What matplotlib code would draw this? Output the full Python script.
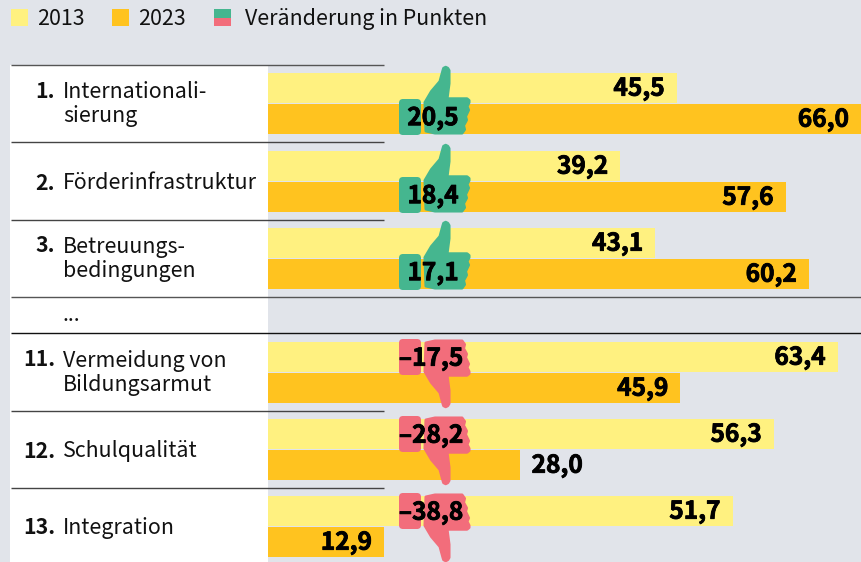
import matplotlib
matplotlib.use('Agg')
import matplotlib.pyplot as plt
import matplotlib.patheffects as pe
from matplotlib.patches import Polygon, FancyBboxPatch, Rectangle

plt.rcParams['font.family'] = ['Noto Sans CJK SC', 'DejaVu Sans']

ranks = ['1.', '2.', '3.', '11.', '12.', '13.']
labels = ['Internationali-\nsierung', 'Förderinfrastruktur', 'Betreuungs-\nbedingungen',
          'Vermeidung von\nBildungsarmut', 'Schulqualität', 'Integration']
v2013 = [45.5, 39.2, 43.1, 63.4, 56.3, 51.7]
v2023 = [66.0, 57.6, 60.2, 45.9, 28.0, 12.9]
delta = ['20,5', '18,4', '17,1', '\u201317,5', '\u201328,2', '\u201338,8']
rows = [103.5, 181.5, 258.5, 372.5, 449.5, 526.5]

BG = '#e1e4ea'
YEL = '#fff180'
ORA = '#ffc31f'
GRN = '#45b68f'
RED = '#f26d7b'
FS = 15.4
FS_BOLD = 17.6
px_per_unit = 8.985
# the numbers are a heavier cut than the bold that is installed
heavy = [pe.withStroke(linewidth=0.6, foreground='black')]

fig = plt.figure(figsize=(8.62, 5.62), dpi=100, facecolor=BG)
bg = fig.add_axes([0, 0, 1, 1], zorder=0)
bg.set_xlim(0, 862)
bg.set_ylim(562, 0)
bg.axis('off')

ax = fig.add_axes([268 / 862, 0, 594 / 862, 1], zorder=1)
ax.set_xlim(0, 594 / px_per_unit)
ax.set_ylim(562, 0)
ax.axis('off')

# white label panel and rules
bg.add_patch(Rectangle((10, 65), 258, 497, fc='white', ec='none'))
for y, x1, c in [(65, 384, '#555555'), (142, 384, '#444444'), (219.5, 384, '#444444'),
                 (297, 861, '#555555'), (333, 861, '#111111'), (410.5, 384, '#444444'),
                 (488, 384, '#444444')]:
    bg.plot([11, x1], [y, y], color=c, lw=1, solid_capstyle='butt')

# legend
bg.add_patch(Rectangle((11, 9), 17, 17, fc=YEL, ec='none'))
bg.add_patch(Rectangle((112, 9), 17, 17, fc=ORA, ec='none'))
bg.add_patch(Rectangle((214, 9), 17, 8.5, fc=GRN, ec='none'))
bg.add_patch(Rectangle((214, 17.5), 17, 8.5, fc=RED, ec='none'))
bg.text(37, 19, '2013', fontsize=FS, va='center', color='#111111')
bg.text(138, 19, '2023', fontsize=FS, va='center', color='#111111')
bg.text(245, 19, 'Veränderung in Punkten', fontsize=FS, va='center', color='#111111')

bg.text(63, 315, '...', fontsize=FS, va='center', color='#111111')

# thumb outline, y relative to the row centre
hand = [(425, -1), (431.5, -12), (440, -22), (443, -33), (443.7, -35.2), (445.7, -36.2),
        (447.7, -35.2), (449, -33), (449, -20), (447, -4.7), (467, -4.7), (469, -3), (469, -1),
        (467, 3), (468.5, 6.5), (465.5, 13), (466.5, 16.5), (463.5, 22), (464.5, 26),
        (462, 29.5), (435, 29.5), (426, 27.5)]


def thumb(y0, up, color):
    sign = 1 if up else -1
    off = 0 if up else -2
    pts = [(x, y0 + off + sign * y) for x, y in hand]
    ax.add_patch(Polygon(pts, closed=True, fc=color, ec=color, lw=2.2, joinstyle='round',
                         transform=bg.transData, clip_on=False, zorder=3))
    top = y0 + off + (-4.5 if up else -31.5)
    ax.add_patch(FancyBboxPatch((403, top + 4), 14, 28, boxstyle='round,pad=4,rounding_size=4',
                                fc=color, ec='none', transform=bg.transData, clip_on=False,
                                zorder=3))


for i, y0 in enumerate(rows):
    ax.barh(y0 - 15.5, v2013[i], height=30, color=YEL, zorder=1)
    ax.barh(y0 + 15.5, v2023[i], height=30, color=ORA, zorder=1)
    ax.text(v2013[i] - 12 / px_per_unit, y0 - 14.5, f'{v2013[i]:.1f}'.replace('.', ','),
            ha='right', va='center', fontsize=FS_BOLD, fontweight='bold', color='black', zorder=5,
            path_effects=heavy)
    if v2023[i] == 28.0:
        ax.text(v2023[i] + 12 / px_per_unit, y0 + 16.5, f'{v2023[i]:.1f}'.replace('.', ','),
                ha='left', va='center', fontsize=FS_BOLD, fontweight='bold', color='black', zorder=5,
                path_effects=heavy)
    else:
        ax.text(v2023[i] - 12 / px_per_unit, y0 + 16.5, f'{v2023[i]:.1f}'.replace('.', ','),
                ha='right', va='center', fontsize=FS_BOLD, fontweight='bold', color='black', zorder=5,
                path_effects=heavy)

    up = not delta[i].startswith('\u2013')
    thumb(y0, up, GRN if up else RED)
    ax.text(433 if up else 431, y0 + (15 if up else -13.5), delta[i], transform=bg.transData,
            ha='center', va='center', fontsize=FS_BOLD, fontweight='bold', color='black', zorder=5,
            path_effects=heavy)

    two_lines = '\n' in labels[i]
    bg.text(55, y0 - 12.5 if two_lines else y0 + 1.5, ranks[i], ha='right', va='center', fontsize=FS,
            fontweight='bold', color='#111111')
    bg.text(63, y0 + (0.5 if two_lines else 1.5), labels[i], ha='left', va='center', fontsize=FS,
            color='#111111', linespacing=1.13)

fig.savefig('out.png', dpi=100, facecolor=BG)
